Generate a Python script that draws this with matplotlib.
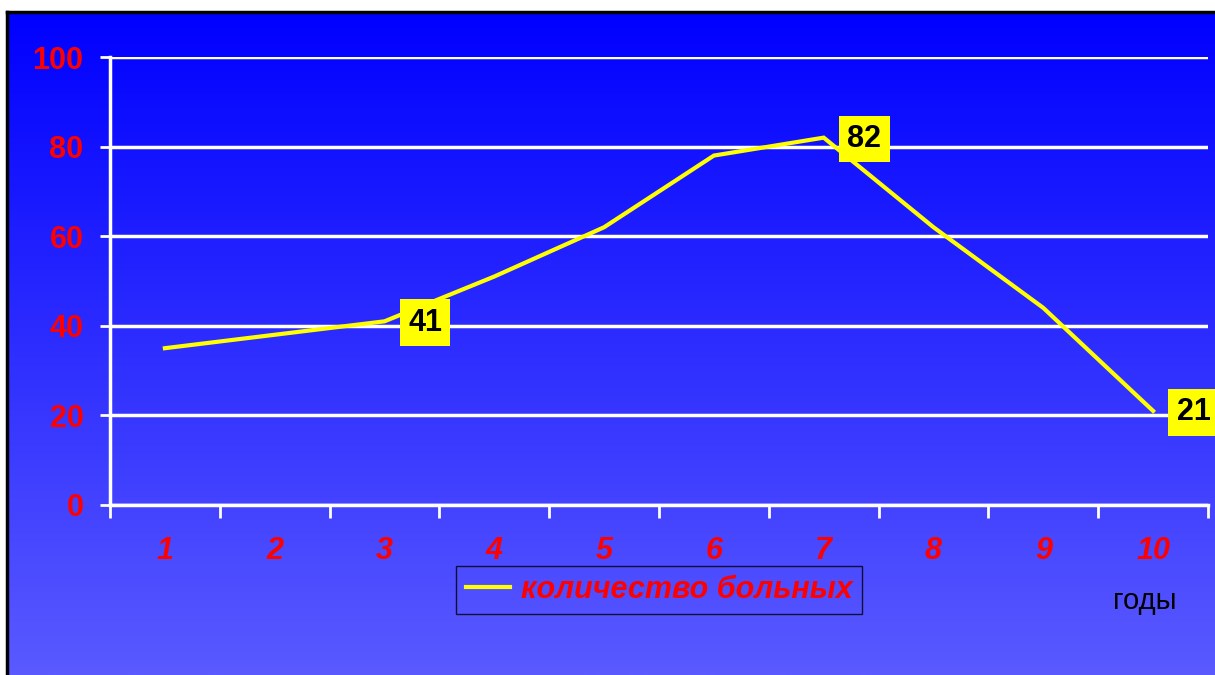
import numpy as np
import matplotlib
matplotlib.use("Agg")
import matplotlib.pyplot as plt

plt.rcParams['font.family'] = ['Liberation Sans', 'DejaVu Sans']

years = ["1", "2", "3", "4", "5", "6", "7", "8", "9", "10"]
patients = [35, 38, 41, 51, 62, 78, 82, 62, 44, 21]
labelled = [2, 6, 9]  # indices with a value box
y_ticks = [0, 20, 40, 60, 80, 100]
series_name = "количество больных"
x_title = "годы"

W, H = 1215, 675


def create_plot():
    fig = plt.figure(figsize=(W / 100, H / 100), dpi=100)
    fig.patch.set_facecolor("white")

    # slide background: blue gradient with black frame
    bg = fig.add_axes([0, 0, 1, 1], zorder=0)
    bg.axis("off")
    top = np.array([0, 0, 255]) / 255
    bottom = np.array([90, 90, 255]) / 255
    t = np.linspace(0, 1, 256)[:, None]
    grad = (top * (1 - t) + bottom * t)[:, None, :]
    bg.imshow(grad, extent=[7, W, H, 12], aspect="auto", interpolation="bilinear")
    bg.plot([7, W], [12, 12], color="black", lw=2.5)
    bg.plot([7, 7], [12, H], color="black", lw=2.5)
    bg.set_xlim(0, W)
    bg.set_ylim(H, 0)

    x0, x1, y0, y1 = 110, 1208, 57, 505
    ax = fig.add_axes([x0 / W, (H - y1) / H, (x1 - x0) / W, (y1 - y0) / H], zorder=1)
    ax.set_facecolor("none")

    x = np.arange(len(years))
    ax.plot(x, patients, color="#FFFF00", lw=3, label=series_name,
            solid_joinstyle="miter", zorder=3)

    ax.set_xlim(-0.5, len(years) - 0.5)
    ax.set_ylim(0, 100)

    ax.set_yticks(y_ticks)
    ax.set_yticklabels([str(v) for v in y_ticks], color="red",
                       fontsize=22, fontweight="bold")
    ax.yaxis.grid(True, color="white", lw=2.5)
    ax.set_axisbelow(True)

    ax.set_xticks(np.arange(-0.5, len(years)))
    ax.set_xticklabels([])
    ax.set_xticks(x, minor=True)
    ax.set_xticklabels(years, minor=True, color="red", fontsize=22,
                       fontweight="bold", fontstyle="italic")

    ax.tick_params(axis="y", length=7, width=2, color="white", pad=12)
    ax.tick_params(axis="x", which="major", length=9, width=2, color="white")
    ax.tick_params(axis="x", which="minor", length=0, pad=22)

    for side in ["top", "right"]:
        ax.spines[side].set_visible(False)
    for side in ["left", "bottom"]:
        ax.spines[side].set_color("white")
        ax.spines[side].set_linewidth(2.5)

    for i in labelled:
        ax.annotate(str(patients[i]), (x[i], patients[i]), xytext=(17, -1),
                    textcoords="offset points", ha="left", va="center",
                    fontsize=22, fontweight="bold", color="black",
                    bbox=dict(boxstyle="square,pad=0.27", fc="#FFFF00", ec="none"),
                    zorder=5, annotation_clip=False)

    leg = ax.legend(loc="center", bbox_to_anchor=(659 / W, (H - 590) / H),
                    bbox_transform=fig.transFigure, frameon=True, fancybox=False,
                    handlelength=1.45, borderpad=0.3, handletextpad=0.35,
                    prop=dict(size=22, weight="bold", style="italic"))
    leg.get_frame().set_edgecolor("black")
    leg.get_frame().set_linewidth(1)
    leg.get_frame().set_facecolor("none")
    for txt in leg.get_texts():
        txt.set_color("red")

    fig.text(1145 / W, (H - 601) / H, x_title, ha="center", va="center",
             fontsize=21, color="black")

    fig.savefig("out.png", dpi=100)


if __name__ == "__main__":
    create_plot()
